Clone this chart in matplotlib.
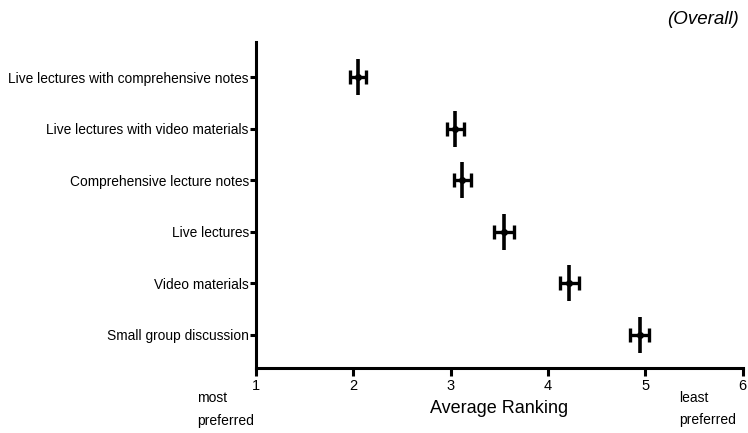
import numpy as np
import matplotlib
matplotlib.use('Agg')
import matplotlib.pyplot as plt

plt.rcParams['font.family'] = ['Liberation Sans', 'DejaVu Sans']

# data
categories = ['Live lectures with comprehensive notes',
              'Live lectures with video materials',
              'Comprehensive lecture notes',
              'Live lectures',
              'Video materials',
              'Small group discussion']
means = [2.05, 3.05, 3.12, 3.55, 4.22, 4.94]
errors = [0.08, 0.09, 0.09, 0.10, 0.10, 0.10]
xticks = [1, 2, 3, 4, 5, 6]

fig = plt.figure(figsize=(7.48, 4.33), dpi=100)
ax = fig.add_axes([0.342, 0.150, 0.651, 0.753])

ypos = np.arange(len(categories))

# horizontal error bars with caps
ax.errorbar(means, ypos, xerr=errors, fmt='o', color='black', ms=4,
            elinewidth=2.4, capsize=5, capthick=2.4)
# vertical stroke through each point
ax.plot(means, ypos, linestyle='none', marker='|', ms=26, mew=2.6, color='black')

ax.set_xlim(1, 6)
ax.set_ylim(len(categories) - 1 + 0.65, -0.68)
ax.set_yticks(ypos)
ax.set_yticklabels(categories, fontsize=9.9)
ax.set_xticks(xticks)
ax.set_xticklabels([str(t) for t in xticks], fontsize=10.5)

for s in ['top', 'right']:
    ax.spines[s].set_visible(False)
for s in ['left', 'bottom']:
    ax.spines[s].set_linewidth(2.2)
ax.tick_params(axis='both', width=2.2, length=4, pad=1, colors='black')
ax.tick_params(axis='x', length=6, pad=2)

ax.set_xlabel('Average Ranking', fontsize=13, labelpad=5)

fig.text(0.263, 0.054, 'most\npreferred', fontsize=10, ha='left', va='center',
         linespacing=1.75)
fig.text(0.908, 0.056, 'least\npreferred', fontsize=10, ha='left', va='center',
         linespacing=1.75)
fig.text(0.988, 0.955, '(Overall)', fontsize=13.5, style='italic', ha='right',
         va='center')

fig.savefig('out.png', dpi=100)
